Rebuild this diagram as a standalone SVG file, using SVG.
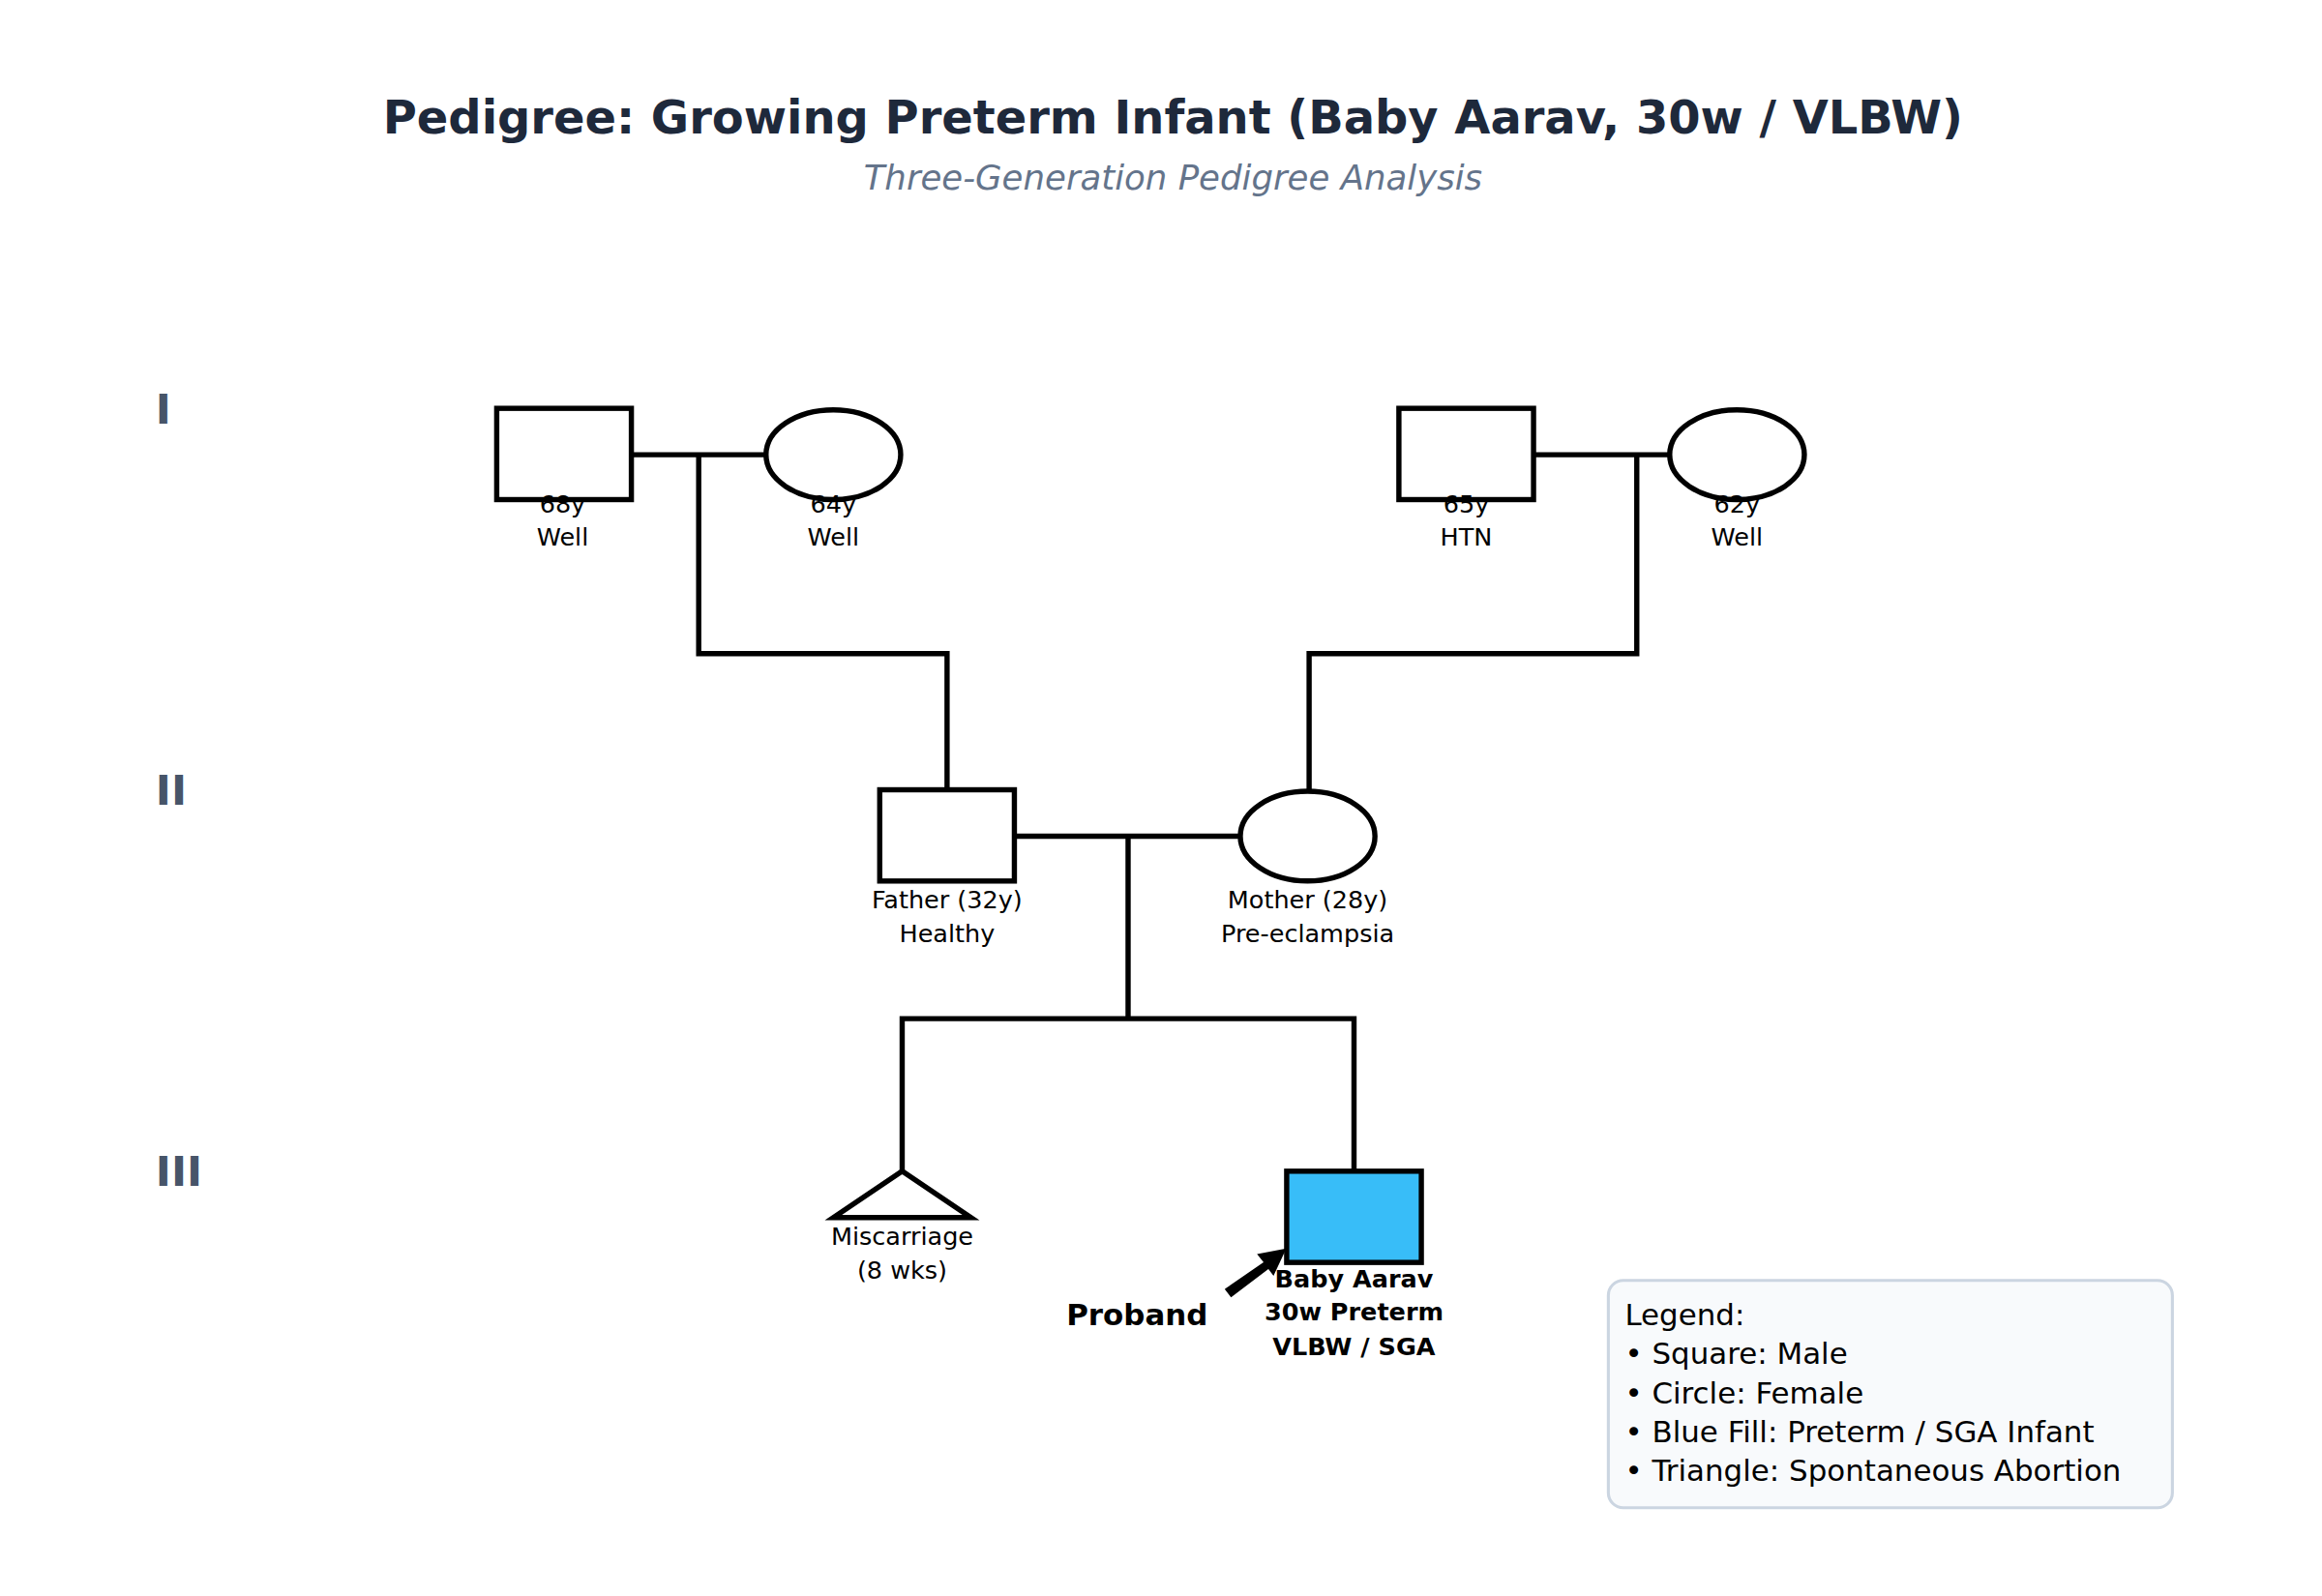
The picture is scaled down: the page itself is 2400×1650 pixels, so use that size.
<svg xmlns="http://www.w3.org/2000/svg" width="2400" height="1650" viewBox="0 0 2400 1650">
<style>
.s{fill:#fff;stroke:#000;stroke-width:3.5}
.l{fill:none;stroke:#000;stroke-width:3.5}
.t{font-family:"DejaVu Sans",sans-serif;font-size:16.5px;text-anchor:middle;fill:#000}
.b{font-weight:bold}
.g{font-family:"DejaVu Sans",sans-serif;font-size:28px;font-weight:bold;fill:#475569}
.lg{font-family:"DejaVu Sans",sans-serif;font-size:20px;fill:#000}
</style>
<rect width="2400" height="1650" fill="#fff"/>
<g transform="scale(1.5464)">
<text x="784" y="89" text-anchor="middle" style="font-family:'DejaVu Sans',sans-serif;font-size:31px;font-weight:bold;fill:#1e293b">Pedigree: Growing Preterm Infant (Baby Aarav, 30w / VLBW)</text>
<text x="784" y="127" text-anchor="middle" style="font-family:'DejaVu Sans',sans-serif;font-size:23px;font-style:italic;fill:#64748b">Three-Generation Pedigree Analysis</text>
<text class="g" x="104" y="283">I</text>
<text class="g" x="104" y="538">II</text>
<text class="g" x="104" y="793">III</text>
<g id="connectors">
<path class="l" d="M422 304H512M467 304V437H633V528M1025 304H1116M1094 304V437H875V528M678 559H829M754 559V681M603 783V681H905V783"/>
<path d="M820 862L846 844L842 839L858 836L851 851L848 847L823 866Z" fill="#000" stroke="#000" stroke-width="2"/>
</g>
<g id="gf1"><rect class="s" x="332" y="273" width="90" height="61"/><text class="t" x="376" y="343">68y</text><text class="t" x="376" y="365">Well</text></g>
<g id="gm1"><ellipse class="s" cx="557" cy="304" rx="45" ry="30"/><text class="t" x="557" y="343">64y</text><text class="t" x="557" y="365">Well</text></g>
<g id="gf2"><rect class="s" x="935" y="273" width="90" height="61"/><text class="t" x="980" y="343">65y</text><text class="t" x="980" y="365">HTN</text></g>
<g id="gm2"><ellipse class="s" cx="1161" cy="304" rx="45" ry="30"/><text class="t" x="1161" y="343">62y</text><text class="t" x="1161" y="365">Well</text></g>
<g id="father"><rect class="s" x="588" y="528" width="90" height="61"/><text class="t" x="633" y="607">Father (32y)</text><text class="t" x="633" y="630">Healthy</text></g>
<g id="mother"><ellipse class="s" cx="874" cy="559" rx="45" ry="30"/><text class="t" x="874" y="607">Mother (28y)</text><text class="t" x="874" y="630">Pre-eclampsia</text></g>
<g id="miscarriage"><path class="s" d="M603 783L649 814H557Z"/><text class="t" x="603" y="832">Miscarriage</text><text class="t" x="603" y="855">(8 wks)</text></g>
<g id="proband"><rect x="860" y="783" width="90" height="61" fill="#38bdf8" stroke="#000" stroke-width="3.5"/><text class="t b" x="905" y="861">Baby Aarav</text><text class="t b" x="905" y="883">30w Preterm</text><text class="t b" x="905" y="906">VLBW / SGA</text><text class="t b" x="760" y="886" style="font-size:20px">Proband</text></g>
<g id="legend"><rect x="1075" y="856" width="377" height="152" rx="10" fill="#f8fafc" stroke="#cbd5e1" stroke-width="2"/>
<text class="lg" x="1086" y="886">Legend:</text>
<text class="lg" x="1086" y="912">• Square: Male</text>
<text class="lg" x="1086" y="938">• Circle: Female</text>
<text class="lg" x="1086" y="964">• Blue Fill: Preterm / SGA Infant</text>
<text class="lg" x="1086" y="990">• Triangle: Spontaneous Abortion</text></g>
</g>
</svg>
